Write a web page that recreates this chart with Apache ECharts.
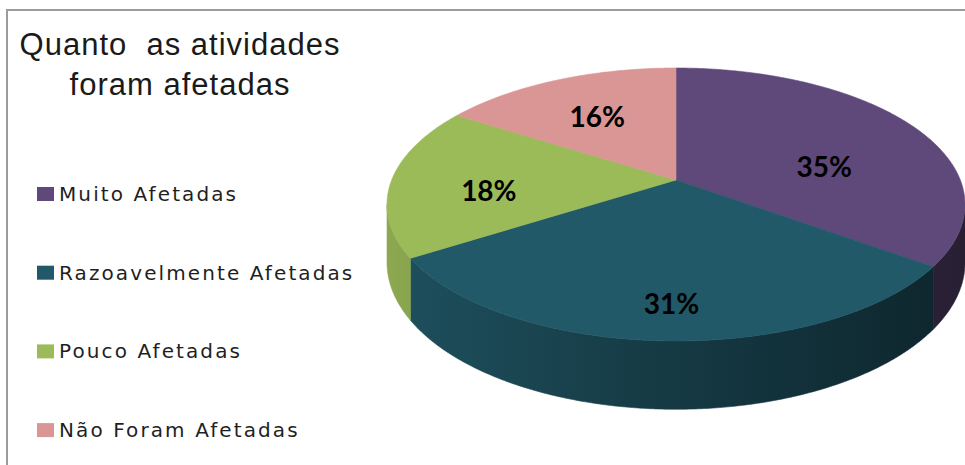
<!DOCTYPE html>
<html>
<head>
<meta charset="utf-8">
<script src="https://cdn.jsdelivr.net/npm/echarts@6/dist/echarts.min.js"></script>
<style>
html,body{margin:0;padding:0;background:#ffffff;}
#chart{width:965px;height:465px;}
#chart text[style*="DejaVu"]{letter-spacing:2.1px;}
#chart text[style*="Liberation"]{letter-spacing:1px;}
</style>
</head>
<body>
<div id="chart"></div>
<script>
// ---- data ----
const categories = ['Muito Afetadas', 'Razoavelmente Afetadas', 'Pouco Afetadas', 'Não Foram Afetadas'];
const values = [35, 31, 18, 16];
const labelTexts = ['35%', '31%', '18%', '16%'];
const titleText = 'Quanto  as atividades\nforam afetadas';

// ---- styles ----
const colors = ['#5f497a', '#215968', '#9bbb59', '#d99694'];
const VIEW = { cx: 676, cy: 180, A: 284.3, B: 132.1, k: 0.1795, D: 56 };

const total = values.reduce((a, b) => a + b, 0);
const starts = [];
(function () { let acc = 0; values.forEach(v => { starts.push(acc / total * 360); acc += v; }); })();
const silDeg = Math.asin(VIEW.k) * 180 / Math.PI;
const halfW = VIEW.A / Math.sqrt(1 - VIEW.k * VIEW.k);

function rim(deg, r, drop) {
  const t = deg * Math.PI / 180;
  const u = r * Math.sin(t), v = -r * Math.cos(t);
  const w = 1 - VIEW.k * v;
  return [VIEW.cx + VIEW.A * u / w, VIEW.cy + VIEW.B * v / w + (drop ? VIEW.D / w : 0)];
}
function arc(a, b, drop) {
  const pts = [];
  const n = Math.max(2, Math.ceil(Math.abs(b - a) / 0.5));
  for (let i = 0; i <= n; i++) pts.push(rim(a + (b - a) * i / n, 1, drop));
  return pts;
}
function centroid(pts) {
  let A = 0, cx = 0, cy = 0;
  const n = pts.length;
  for (let i = 0; i < n; i++) {
    const p0 = pts[i], p1 = pts[(i + 1) % n];
    const c = p0[0] * p1[1] - p1[0] * p0[1];
    A += c; cx += (p0[0] + p1[0]) * c; cy += (p0[1] + p1[1]) * c;
  }
  A /= 2;
  return { a: Math.abs(A), x: cx / (6 * A), y: cy / (6 * A) };
}
function shade(hex, f) {
  const n = parseInt(hex.slice(1), 16);
  const r = Math.round(((n >> 16) & 255) * f), g = Math.round(((n >> 8) & 255) * f), b = Math.round((n & 255) * f);
  return 'rgb(' + r + ',' + g + ',' + b + ')';
}
function wallFill(hex) {
  return new echarts.graphic.LinearGradient(VIEW.cx - halfW, 0, VIEW.cx + halfW, 0, [
    { offset: 0, color: shade(hex, 0.9) },
    { offset: 0.5, color: shade(hex, 0.64) },
    { offset: 1, color: shade(hex, 0.42) }
  ], true);
}

function makeRender(i) {
  return function (params, api) {
    const v = api.value(0);
    const s = starts[i], e = s + v / total * 360;
    const top = [[VIEW.cx, VIEW.cy]].concat(arc(s, e, false));
    const children = [];
    const parts = [centroid(top)];
    const lo = Math.max(s, 90 + silDeg), hi = Math.min(e, 270 - silDeg);
    if (hi > lo) {
      const wall = arc(lo, hi, false).concat(arc(hi, lo, true));
      const wf = wallFill(colors[i]);
      children.push({ type: 'polygon', shape: { points: wall }, style: { fill: wf, stroke: wf, lineWidth: 0.6 }, z2: 1 });
      parts.push(centroid(wall));
    }
    const col = api.visual('color');
    children.push({ type: 'polygon', shape: { points: top }, style: { fill: col, stroke: col, lineWidth: 0.6 }, z2: 2 });
    let sa = 0, sx = 0, sy = 0;
    parts.forEach(p => { sa += p.a; sx += p.x * p.a; sy += p.y * p.a; });
    children.push({
      type: 'text', x: sx / sa, y: sy / sa, z2: 10,
      style: { text: labelTexts[i], fill: '#000000', fontFamily: 'Lato', fontWeight: 'bold', fontSize: 28, align: 'center', verticalAlign: 'middle' }
    });
    return { type: 'group', children: children };
  };
}

const chart = echarts.init(document.getElementById('chart'), null, { renderer: 'svg' });
chart.setOption({
  animation: false,
  color: colors,
  backgroundColor: '#ffffff',
  title: {
    text: titleText, left: 180, top: 24, padding: 0, textAlign: 'center',
    textStyle: { fontFamily: 'Liberation Sans', fontWeight: 'normal', fontSize: 31, lineHeight: 40, color: '#1a1a1a' }
  },
  legend: {
    orient: 'vertical', left: 37, top: 184, padding: 0,
    itemWidth: 17, itemHeight: 14, itemGap: 58.7, icon: 'rect',
    selectedMode: false,
    textStyle: { fontFamily: 'DejaVu Sans', fontSize: 20, lineHeight: 20, color: '#1f1f1f', padding: [0, 0, 0, 0] },
    data: categories
  },
  graphic: [{
    type: 'rect', shape: { x: 7, y: 10, width: 1000, height: 1000 },
    style: { fill: 'none', stroke: '#9c9c9c', lineWidth: 2 }, silent: true, z: -1
  }],
  series: categories.map((name, i) => ({
    type: 'custom', name: name, coordinateSystem: 'none',
    itemStyle: { color: colors[i] },
    renderItem: makeRender(i),
    data: [[values[i]]]
  }))
});
</script>
</body>
</html>
